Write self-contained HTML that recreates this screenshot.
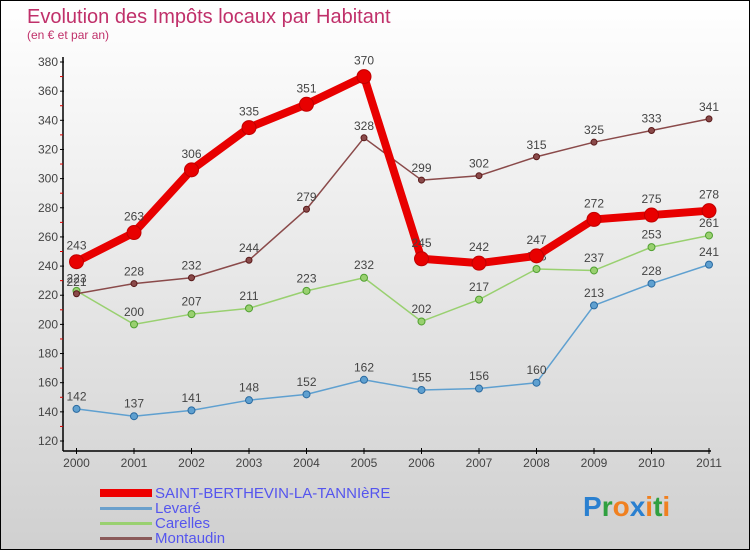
<!DOCTYPE html>
<html><head><meta charset="utf-8"><style>
body{margin:0}
#wrap{position:relative;width:748px;height:548px;border:1px solid #000;background:linear-gradient(#fff,#d0d0d0);font-family:"Liberation Sans",sans-serif;overflow:hidden}
</style></head><body>
<div id="wrap">
<svg id="chart" width="748" height="548">
<text x="26" y="22" font-size="20" fill="#c0306a">Evolution des Impôts locaux par Habitant</text>
<text x="26" y="38" font-size="12" fill="#c0306a">(en € et par an)</text>
<g id="axes"></g><g id="series"></g>
<g>
<rect x="99" y="488" width="52" height="8" fill="#e00"/>
<text x="154" y="497" font-size="15" fill="#5555ee">SAINT-BERTHEVIN-LA-TANNIèRE</text>
<rect x="99" y="506" width="52" height="3" fill="#6aa0cc"/>
<text x="154" y="512" font-size="15" fill="#5555ee">Levaré</text>
<rect x="99" y="521" width="52" height="3" fill="#99d070"/>
<text x="154" y="527" font-size="15" fill="#5555ee">Carelles</text>
<rect x="99" y="536" width="52" height="3" fill="#8a5a5a"/>
<text x="154" y="542" font-size="15" fill="#5555ee">Montaudin</text>
</g>
<text x="582" y="515" font-size="28" font-weight="bold"><tspan fill="#2a80d0">P</tspan><tspan fill="#30a040">r</tspan><tspan fill="#f08020">o</tspan><tspan fill="#2a80d0">x</tspan><tspan fill="#f08020">i</tspan><tspan fill="#30a040">t</tspan><tspan fill="#f08020">i</tspan></text>
</svg>
</div>
<script>
const years=[2000,2001,2002,2003,2004,2005,2006,2007,2008,2009,2010,2011];
const yTicks=[120,140,160,180,200,220,240,260,280,300,320,340,360,380];
const saint=[243,263,306,335,351,370,245,242,247,272,275,278];
const levare=[142,137,141,148,152,162,155,156,160,213,228,241];
const carelles=[223,200,207,211,223,232,202,217,238,237,253,261];
const montaudin=[221,228,232,244,279,328,299,302,315,325,333,341];
const NS="http://www.w3.org/2000/svg";
const xs=i=>75.5+i*(708-75.5)/11;
const ys=v=>440-(v-120)*(440-61)/260;
function mk(t,a,p){const e=document.createElementNS(NS,t);for(const k in a)e.setAttribute(k,a[k]);p.appendChild(e);return e;}
const ax=document.getElementById('axes');
let e=mk('line',{x1:62,y1:56,x2:62,y2:450,stroke:'#000','stroke-width':1.5},ax);


e=mk('line',{x1:62,y1:450,x2:710,y2:450,stroke:'#000','stroke-width':1.5},ax);


yTicks.forEach((v,i)=>{const y=ys(v);mk('line',{x1:59,y1:y,x2:63,y2:y,stroke:'#000'},ax);
if(i<yTicks.length-1)mk('line',{x1:59,y1:ys(v+10),x2:62,y2:ys(v+10),stroke:'#d00'},ax);
const t=mk('text',{x:57,y:y+4,'font-size':12,fill:'#444','text-anchor':'end'},ax);t.textContent=v;

});
years.forEach((yr,i)=>{const x=xs(i);mk('line',{x1:x,y1:447,x2:x,y2:453,stroke:'#000'},ax);
const t=mk('text',{x:x,y:466,'font-size':12,fill:'#444','text-anchor':'middle'},ax);t.textContent=yr;

});
const sg=document.getElementById('series');
function draw(arr,color,w,r,name,dark){
const g=mk('g',{},sg);


const pl=mk('polyline',{points:arr.map((v,i)=>xs(i)+','+ys(v)).join(' '),fill:'none',stroke:color,'stroke-width':w,'stroke-linejoin':'round'},g);


arr.forEach((v,i)=>{const c=mk('circle',{cx:xs(i),cy:ys(v),r:r,fill:color,stroke:dark,'stroke-width':1},g);


const t=mk('text',{x:xs(i),y:ys(v)-r-5,'font-size':12,fill:'#444','text-anchor':'middle'},g);t.textContent=v;

});}
draw(levare,'#5fa0d0',1.5,3.5,'levare','#2a6aa0');
draw(carelles,'#99d070',1.5,3.5,'carelles','#50a030');
draw(montaudin,'#8a4a4a',1.5,3,'montaudin','#5a1a1a');
draw(saint,'#e80000',8,7,'saint-berthevin','#c00000');
</script>
</body></html>
